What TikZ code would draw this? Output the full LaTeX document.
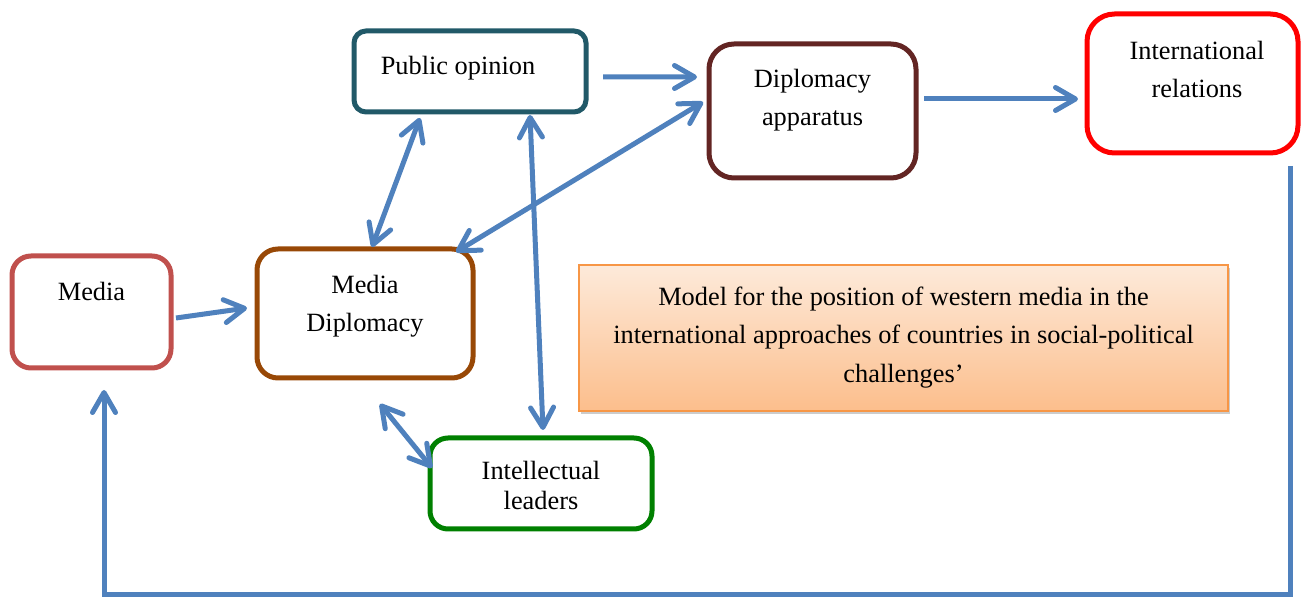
\documentclass[tikz,border=0pt]{standalone}
\usepackage{fontspec}
\setmainfont{Liberation Serif}
\usetikzlibrary{arrows.meta,shadows,calc}
\definecolor{linkblue}{RGB}{79,129,189}
\definecolor{pubcol}{RGB}{33,89,104}
\definecolor{dipcol}{RGB}{99,37,35}
\definecolor{mediacol}{RGB}{192,80,77}
\definecolor{mdipcol}{RGB}{152,72,6}
\definecolor{intelcol}{RGB}{0,128,0}
\definecolor{modelcol}{RGB}{247,150,70}
\definecolor{modeltop}{RGB}{253,234,218}
\definecolor{modelbot}{RGB}{252,190,140}
\newcommand{\boxtext}[4]{\parbox[c][#2][t]{#1}{\centering\vspace*{#3}\leavevmode\strut#4}}

\begin{document}
\begin{tikzpicture}[>={Straight Barb[round,length=0.4cm,width=0.46cm]},
  box/.style={draw,line width=0.1cm,inner sep=0pt,outer sep=0pt,
    font=\fontsize{15}{22}\selectfont},
  link/.style={draw=linkblue,line width=0.1cm}]
\useasboundingbox (0,0) rectangle (26.06,-11.96);

\node[box,draw=pubcol,rounded corners=0.24cm] (pub) at (9.40,-1.43)
  {\boxtext{4.64cm}{1.62cm}{0.32cm}{\hspace*{-0.48cm}Public opinion}};
\node[box,draw=dipcol,rounded corners=0.5cm] (dip) at (16.25,-2.22)
  {\boxtext{4.14cm}{2.68cm}{0.32cm}{Diplomacy\\apparatus}};
\node[box,draw=red,rounded corners=0.55cm] (intl) at (23.85,-1.67)
  {\boxtext{4.22cm}{2.78cm}{0.36cm}{\hspace*{0.18cm}International\\\hspace*{0.18cm}relations}};
\node[box,draw=mediacol,rounded corners=0.38cm] (media) at (1.83,-6.24)
  {\boxtext{3.18cm}{2.24cm}{0.34cm}{Media}};
\node[box,draw=mdipcol,rounded corners=0.42cm] (mdip) at (7.30,-6.27)
  {\boxtext{4.32cm}{2.58cm}{0.34cm}{Media\\Diplomacy}};
\node[box,draw=intelcol,rounded corners=0.36cm,font=\fontsize{15}{17}\selectfont] (intel) at (10.82,-9.67)
  {\boxtext{4.44cm}{1.82cm}{0.41cm}{Intellectual\\leaders}};
\node[box,draw=modelcol,line width=0.03cm,top color=modeltop,bottom color=modelbot,
  drop shadow={shadow xshift=0.04cm,shadow yshift=-0.06cm,opacity=0.4}] (model) at (18.07,-6.76)
  {\boxtext{12.98cm}{2.92cm}{0.26cm}{Model for the position of western media in the\\
   international approaches of countries in social-political\\challenges’}};

\draw[link,->] ([xshift=0.34cm,yshift=-0.11cm]pub.east) -- ([xshift=-0.24cm,yshift=0.68cm]dip.west);
\draw[link,->] ([xshift=0.16cm,yshift=0.24cm]dip.east) -- ([xshift=-0.18cm,yshift=-0.31cm]intl.west);
\draw[link,->] ([xshift=0.1cm,yshift=-0.12cm]media.east) -- ([xshift=-0.2cm,yshift=0.11cm]mdip.west);
\draw[link,<->] ([xshift=0.14cm,yshift=0.04cm]mdip.north) -- ([xshift=-1.0cm,yshift=-0.12cm]pub.south);
\draw[link,<->] ([xshift=1.82cm,yshift=-0.06cm]mdip.north) -- ([xshift=-0.12cm,yshift=0.18cm]dip.west);
\draw[link,<->] ([xshift=1.2cm,yshift=-0.06cm]pub.south) -- ([xshift=0.04cm,yshift=0.16cm]intel.north);
\draw[link,<->] ([xshift=0.3cm,yshift=-0.52cm]mdip.south) -- ([xshift=0.04cm,yshift=0.31cm]intel.west);
\draw[link,->] ([xshift=1.95cm,yshift=-0.26cm]intl.south) -- ++(0,-8.58)
  -| ([xshift=0.25cm,yshift=-0.44cm]media.south);
\end{tikzpicture}
\end{document}
